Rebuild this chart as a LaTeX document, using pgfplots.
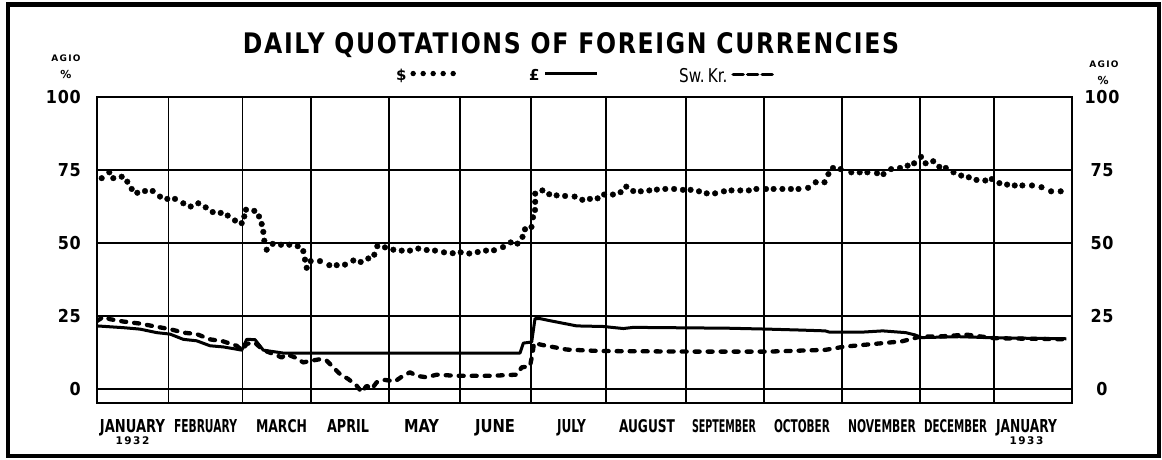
\documentclass[border=0pt]{standalone}
\usepackage{fontspec}
\usepackage{pgfplots}
\usepackage{pgfplotstable}
\pgfplotsset{compat=1.18}
\setmainfont{DejaVu Sans}
\newfontfamily\condfont[FakeStretch=0.8]{DejaVu Sans}
\newfontfamily\titlefont[FakeStretch=0.85,LetterSpace=6]{DejaVu Sans}
\newfontfamily\spacedfont[LetterSpace=14]{DejaVu Sans}
\newfontfamily\tickfont[FakeStretch=0.9,LetterSpace=4]{DejaVu Sans}
\newcommand\mlab[2]{\resizebox{#1}{13pt}{\condfont\bfseries #2}}
\newcommand\yr[1]{{\spacedfont\bfseries\fontsize{10.5}{10.5}\selectfont #1}}

% x = position in the chart (0 = 1 January 1932, 975 = end of January 1933)
\pgfplotstableread{
x y
4.7 72.2
12.3 74.2
16.3 72.2
24.7 72.7
30.3 71.0
34.7 68.5
40.3 67.2
48 67.8
55.7 67.8
63 65.9
70.3 65.1
78 65.1
86.3 63.6
93.7 62.5
101.3 63.6
108.7 62.2
115.7 60.6
123.7 60.3
130.7 59.4
138 57.7
144.7 56.8
147.3 59.1
149 61.4
157.3 61.0
162 59.1
164.7 56.5
166.3 53.8
167.3 50.8
169.7 47.7
175.7 49.7
184 49.4
192.3 49.4
200.7 48.9
206.3 47.2
208 44.3
209.7 41.5
213.7 43.8
223 43.8
232.3 42.4
239.7 42.4
248 42.6
256.3 44.0
263.7 43.5
271.3 44.7
277.3 46.0
280.3 48.9
288 48.5
296.3 47.7
304.7 47.4
313 47.4
321.3 48.1
329.7 47.6
338 47.4
347 46.8
355.7 46.5
363.7 46.8
372.3 46.4
380.7 46.9
389 47.4
397 47.5
406 48.6
413.7 50.2
420.5 49.8
425.5 52.1
428 54.7
434.5 55.5
436 58.8
438 61.3
438.2 64.1
438.2 66.9
445.4 68.0
452.2 66.7
459.6 66.3
468.1 66.1
477.6 65.9
485.3 64.8
492.9 65.1
500.6 65.3
507.1 66.6
515.9 66.6
523.6 67.4
529.3 69.3
536.2 67.8
543.8 67.7
552.3 68.0
559.9 68.3
568.3 68.5
577.1 68.5
585.9 68.2
593.6 68.2
602 67.7
609.7 67.0
618.1 67.0
626.9 67.7
634.5 68.0
643.3 68.0
651.8 68.0
659.4 68.5
669 68.5
676.6 68.5
685.4 68.5
693.9 68.5
701.5 68.5
711.1 68.9
718.7 70.8
727.5 70.8
731.4 73.6
736 75.7
743.6 75.3
754.3 74.2
762.7 74.2
770.4 74.2
780 73.9
786.5 73.6
794.1 75.3
803 75.7
810.6 76.5
817.1 77.3
824 79.5
828.6 77.3
836.2 78.0
842.3 76.1
848.8 75.7
856.5 74.2
864.2 73.1
871.8 72.5
879.5 71.6
888.3 71.4
894.8 71.9
902.4 70.5
910.1 70.0
917.7 69.7
925.4 69.7
935 69.7
944.5 69.1
954.1 67.7
963.7 67.7
}\tabdollar

\pgfplotstableread{
x y
0 21.6
26.3 21.0
43 20.5
59.7 19.3
73 18.8
86.3 17.0
99.7 16.5
113 14.8
126.3 14.4
140 13.6
144.7 13.3
149.7 17.0
158 16.9
166.3 13.3
176.3 12.8
186.3 12.3
200 12.3
300 12.3
423 12.3
426.3 15.7
434.7 16.1
438 24.1
443 24.1
452.8 23.4
479.7 21.6
506.3 21.4
526.3 20.7
536.3 21.1
603 20.9
632.6 20.8
670.9 20.5
701.5 20.2
728.3 19.9
732.1 19.5
766.6 19.5
785.7 19.9
808.7 19.3
818.2 18.5
824 17.6
862.2 17.9
900.5 17.5
969.4 17.2
}\tabpound

\pgfplotstableread{
x y
0 23.3
6.3 24.7
13 23.9
26.3 23.1
43 22.4
59.7 21.3
73 20.5
86.3 19.3
99.7 18.8
113 17.0
126.3 16.3
139.7 14.8
144.7 13.3
150 15.5
158 15.8
166.3 13.3
176.3 12.0
184.7 10.8
189.7 11.9
198 10.8
206.3 9.1
214.7 9.7
223 10.2
229.7 9.7
236.3 7.4
243 5.1
251.3 3.4
259.7 1.1
264.7 -1.1
269.7 1.1
274.7 0.0
279.7 2.3
288 3.1
298 2.6
304.7 4.2
313 5.7
319.7 4.5
329.7 4.0
339.7 4.9
359.7 4.5
393 4.5
419.7 4.9
424.7 7.4
433 7.8
435.5 12.1
437 15.7
446.3 15.0
469.7 13.5
503 13.0
594.4 12.8
640.3 12.8
670.9 12.8
709.2 13.2
728.3 13.4
747.4 14.5
766.6 15.1
785.7 15.7
804.8 16.3
824 18.0
843.1 18.0
869.9 18.6
896.7 17.4
969.4 17.0
}\tabkrona

\begin{document}
\begin{tikzpicture}
\useasboundingbox (-97pt,-57pt) rectangle (1065pt,403pt);
\draw[line width=4.5pt] (-89pt,-53pt) rectangle (1062pt,398.5pt);

\begin{axis}[
  at={(0pt,0pt)}, anchor=south west,
  scale only axis, width=975pt, height=306pt,
  xmin=0, xmax=975, ymin=-4.8, ymax=100,
  axis line style={line width=2.4pt},
  xtick={35.5,108.5,184.5,251,324.5,398,474.5,550,627,705,785,858.5,929.5},
  xticklabels={
    \mlab{65pt}{JANUARY}\\[0pt]\yr{1932},
    \mlab{63pt}{FEBRUARY},
    \mlab{51pt}{MARCH},
    \mlab{42pt}{APRIL},
    \mlab{35pt}{MAY},
    \mlab{40pt}{JUNE},
    \mlab{29pt}{JULY},
    \mlab{56pt}{AUGUST},
    \mlab{64pt}{SEPTEMBER},
    \mlab{56pt}{OCTOBER},
    \mlab{68pt}{NOVEMBER},
    \mlab{63pt}{DECEMBER},
    \mlab{61pt}{JANUARY}\\[0pt]\yr{1933}},
  xticklabel style={anchor=north, inner sep=0pt, yshift=-16pt, align=center, font=\fontsize{10}{10}\selectfont},
  minor xtick={71.5,145.5,214,292,363,434,509,589,667,745,823,897},
  xminorgrids=true, xmajorgrids=false,
  ytick={0,25,50,75,100},
  yticklabels={0,25,50,75,100},
  ymajorgrids=true,
  major grid style={black, line width=1.6pt},
  minor grid style={black, line width=1.6pt},
  major tick length=0pt, minor tick length=0pt,
  yticklabel style={anchor=east, inner sep=0pt, xshift=-16pt, font=\tickfont\bfseries\fontsize{17.8}{18}\selectfont},
  legend plot pos=right,
  legend columns=3,
  legend style={draw=none, fill=none, inner sep=0pt, outer sep=0pt,
    at={(0.3067,1.0686)}, anchor=west,
    nodes={inner sep=0pt},
    /tikz/every odd column/.append style={column sep=4pt},
    /tikz/every even column/.append style={column sep=71pt}},
]
\addplot[only marks, mark=*, mark size=2.8pt, black,
  legend image code/.code={\draw[black, solid, line width=5.4pt, line cap=round, dash pattern=on 0pt off 10pt] (2.7pt,0.45ex) -- (45pt,0.45ex);}]
  table[x=x,y=y] {\tabdollar};
\addlegendentry{\bfseries\fontsize{15}{15}\selectfont \$}
\addplot[black, line width=3pt, line join=round,
  legend image code/.code={\draw[black, solid, line width=3.5pt] (0pt,0.45ex) -- (52pt,0.45ex);}]
  table[x=x,y=y] {\tabpound};
\addlegendentry{\bfseries\fontsize{15}{15}\selectfont £}
\addplot[black, line width=4.3pt, dash pattern=on 5pt off 8pt, line cap=round, line join=round,
  legend image code/.code={\draw[black, line width=3.5pt, dash pattern=on 10pt off 4.5pt] (0pt,0.3ex) -- (39pt,0.3ex);}]
  table[x=x,y=y] {\tabkrona};
\addlegendentry{\hspace*{9pt}\condfont\fontsize{19}{19}\selectfont Sw.\,Kr.}
\end{axis}

\begin{axis}[
  at={(0pt,0pt)}, anchor=south west,
  scale only axis, width=975pt, height=306pt,
  xmin=0, xmax=975, ymin=-4.8, ymax=100,
  axis x line=none, axis y line*=right,
  axis line style={draw=none},
  ytick={0,25,50,75,100},
  yticklabels={0,25,50,75,100},
  major tick length=0pt,
  yticklabel style={anchor=center, inner sep=0pt, xshift=30pt, font=\tickfont\bfseries\fontsize{17.8}{18}\selectfont},
]
\end{axis}

\node at (474pt,358pt) {\resizebox{656pt}{21pt}{\titlefont\bfseries DAILY QUOTATIONS OF FOREIGN CURRENCIES}};
\node[inner sep=0pt] at (-31pt,345pt) {\spacedfont\bfseries\fontsize{9}{9}\selectfont AGIO};
\node[inner sep=0pt] at (-31pt,328pt) {\bfseries\fontsize{11}{11}\selectfont \%};
\node[inner sep=0pt] at (1007pt,339pt) {\spacedfont\bfseries\fontsize{9}{9}\selectfont AGIO};
\node[inner sep=0pt] at (1006pt,322pt) {\bfseries\fontsize{11}{11}\selectfont \%};
\end{tikzpicture}
\end{document}
